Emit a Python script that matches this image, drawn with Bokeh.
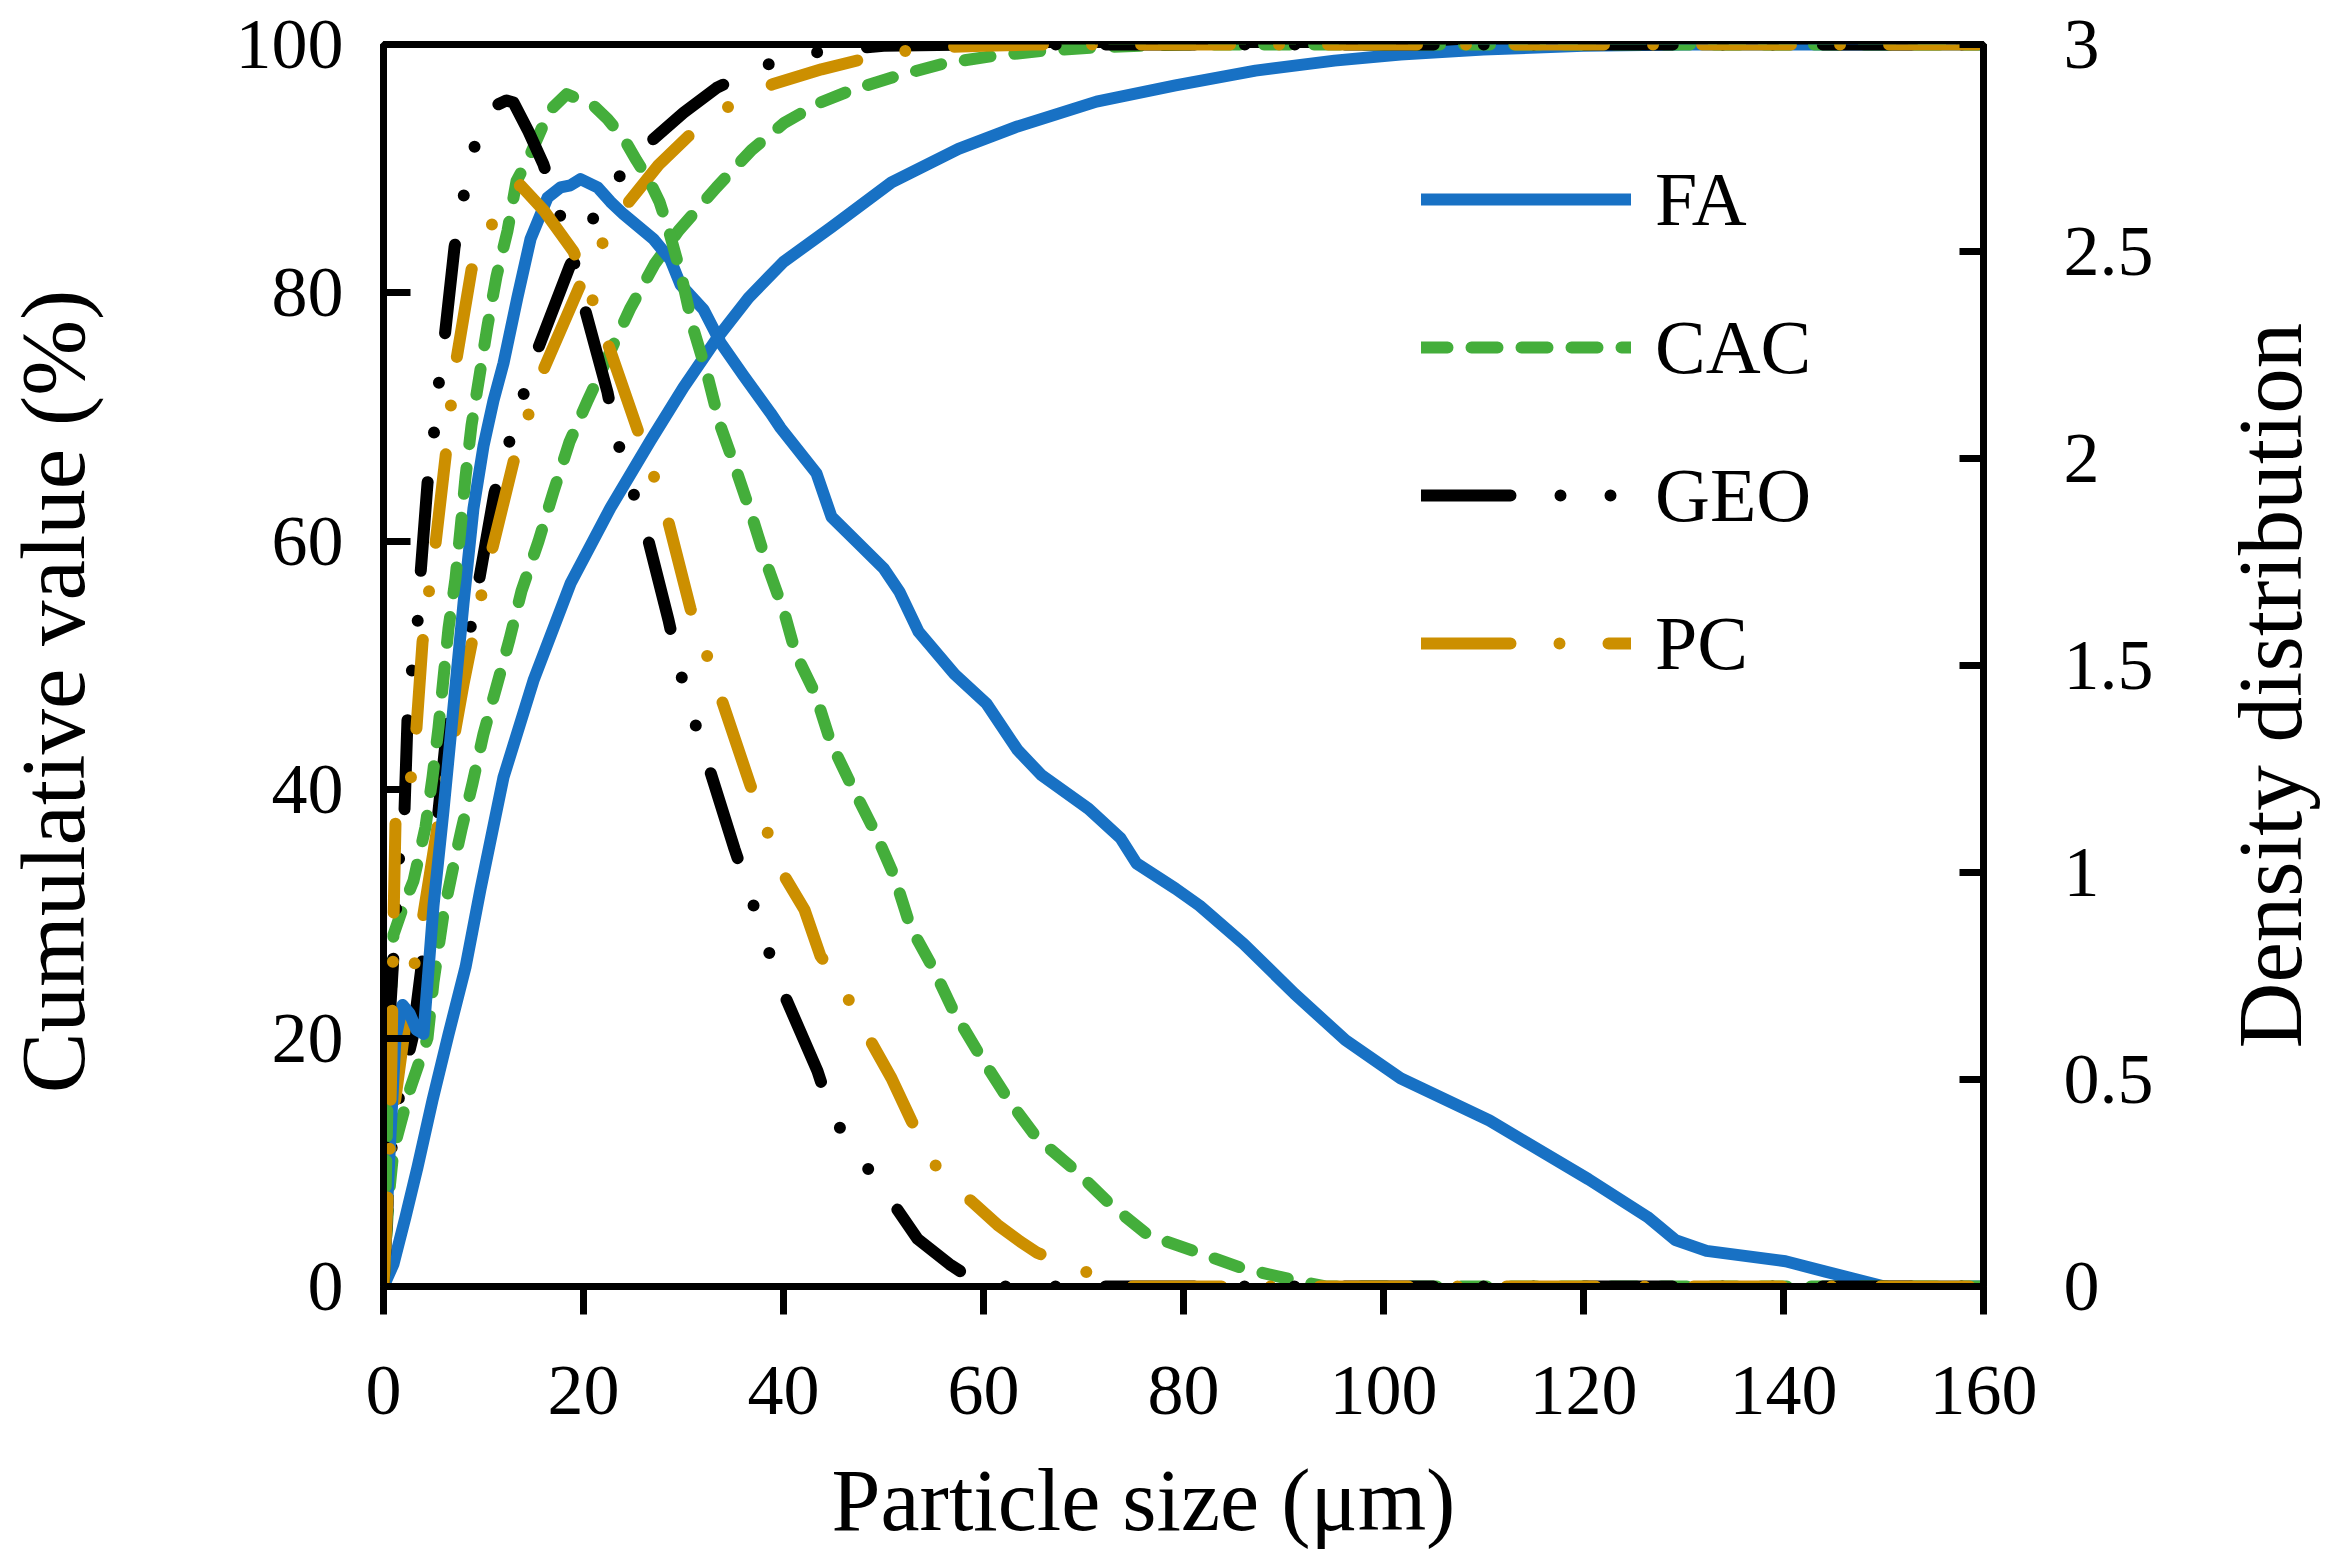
from bokeh.plotting import figure
from bokeh.models import Range1d, LinearAxis, FixedTicker, Legend, LegendItem, Label
from bokeh.layouts import row, column
from bokeh.embed import file_html
from bokeh.resources import INLINE

FONT = "Liberation Serif"

# ---------------- data ----------------
x_ticks = [0, 20, 40, 60, 80, 100, 120, 140, 160]
left_ticks = [0, 20, 40, 60, 80, 100]
right_ticks = [0, 0.5, 1, 1.5, 2, 2.5, 3]
right_tick_labels = ["0", "0.5", "1", "1.5", "2", "2.5", "3"]

x_title = "Particle size (\u03bcm)"
left_title = "Cumulative value (%)"
right_title = "Density distribution"

series_names = ["FA", "CAC", "GEO", "PC"]

# FA
fa_cum_size = [0, 1.0, 2.2, 3.4, 4.9, 6.5, 8.2, 9.7, 12.0, 15.0, 18.7, 22.7, 26.7, 30.0, 33.4,
               36.5, 40.0, 44.8, 50.8, 57.5, 63.4, 71.3, 79.2, 87.2, 95.1, 101.7, 110, 120, 130, 145, 160]
fa_cum = [0, 1.8, 5.6, 9.6, 15.0, 20.3, 25.7, 32.0, 41.0, 48.8, 56.6, 62.7, 68.1, 72.4, 76.4,
          79.6, 82.5, 85.3, 88.9, 91.6, 93.4, 95.4, 96.7, 97.9, 98.7, 99.2, 99.6, 99.9, 100, 100, 100]
fa_den_size = [0, 0.6, 1.2, 1.9, 2.6, 3.3, 4.0, 5.0, 6.0, 7.0, 8.0, 9.0, 10.0, 11.0, 12.0,
               13.4, 14.7, 16.4, 17.7, 18.7, 19.7, 21.4, 22.7, 24.0, 27.0, 28.7, 29.7, 32.0, 33.7, 36.0,
               38.7, 39.7, 43.3, 44.8, 47.6, 50.0, 51.6, 53.5, 57.1, 60.3, 63.4, 65.8, 70.5, 73.7, 75.3,
               79.2, 81.6, 86.0, 91.1, 96.2, 101.7, 110.6, 120.5, 126.4, 129.2, 132.3, 140.2, 144.2, 150.1, 160]
fa_den = [0, 0.32, 0.60, 0.68, 0.66, 0.62, 0.61, 0.92, 1.15, 1.40, 1.65, 1.88, 2.03, 2.14, 2.23,
          2.39, 2.53, 2.63, 2.655, 2.66, 2.675, 2.655, 2.62, 2.59, 2.53, 2.48, 2.42, 2.36, 2.28, 2.20,
          2.11, 2.074, 1.964, 1.859, 1.792, 1.735, 1.678, 1.582, 1.479, 1.408, 1.296, 1.235, 1.154, 1.083, 1.022,
          0.961, 0.92, 0.828, 0.707, 0.595, 0.503, 0.401, 0.259, 0.168, 0.112, 0.086, 0.061, 0.036, 0, 0]

# CAC
cac_cum_size = [0, 0.5, 1.0, 2.0, 2.7, 4.4, 5.0, 6.0, 6.9, 7.8, 8.9, 10.0, 11.3, 12.6, 13.8,
                15.5, 17.0, 18.6, 20.4, 24.7, 27.1, 29.5, 33.3, 36.8, 40.1, 43.6, 46.7, 51.5, 56.2, 61.2,
                66.1, 72, 80, 90, 100, 160]
cac_cum = [0, 7, 11, 14, 16, 20, 24.5, 30, 33.5, 36.8, 40.5, 44.5, 48.3, 52.1, 56,
           60, 64, 68, 71.3, 78.8, 82.3, 85.0, 88.5, 91.5, 93.7, 95.3, 96.3, 97.5, 98.5, 99.1,
           99.5, 99.8, 100, 100, 100, 100]
cac_den_size = [0, 0.5, 1.0, 2.0, 3.0, 4.2, 4.9, 5.5, 6.0, 6.5, 7.2, 7.7, 8.2, 8.8, 9.6,
                10.4, 11.3, 12.4, 13.3, 14.6, 16.6, 18.3, 20.9, 22.4, 24.1, 25.3, 26.6, 27.6, 28.6, 29.8,
                30.9, 32.4, 33.6, 35.3, 36.9, 38.4, 40.1, 41.2, 43.2, 44.7, 46.7, 49.1, 51.1, 52.7, 55.0,
                57.0, 59.8, 62.5, 65.3, 69.3, 72.8, 76.4, 81.1, 85.9, 90.6, 94.2, 160]
cac_den = [0, 0.55, 0.85, 0.92, 0.98, 1.11, 1.23, 1.35, 1.47, 1.59, 1.71, 1.83, 1.955, 2.08, 2.20,
           2.32, 2.44, 2.55, 2.67, 2.73, 2.84, 2.88, 2.855, 2.82, 2.77, 2.72, 2.67, 2.62, 2.545, 2.44,
           2.32, 2.20, 2.085, 1.97, 1.856, 1.74, 1.626, 1.53, 1.43, 1.316, 1.215, 1.10, 0.99, 0.868, 0.767,
           0.665, 0.552, 0.451, 0.36, 0.278, 0.196, 0.125, 0.085, 0.044, 0.018, 0, 0]

# GEO
geo_cum_size = [0, 0.5, 1.0, 2.0, 2.9, 4.0, 5.4, 6.4, 7.5, 8.7, 9.5, 11.1, 12.4, 13.8, 15.3,
                18.6, 20.6, 23.2, 26.3, 30.0, 33.3, 37.6, 42.4, 50.0, 60.0, 160]
geo_cum = [0, 8, 13, 17, 20, 27, 37.5, 45.3, 49.5, 53, 56.6, 63.9, 67.5, 71.3, 75.2,
           82.1, 85.5, 89.0, 91.9, 94.5, 96.5, 98.2, 99.3, 99.9, 100, 100]
geo_den_size = [0, 0.5, 1.0, 1.6, 2.1, 2.4, 2.8, 3.4, 3.7, 4.4, 5.0, 5.5, 6.1, 7.1, 7.9,
                8.9, 10.0, 11.0, 12.3, 13.0, 14.5, 16.0, 17.5, 19.0, 20.0, 22.4, 23.3, 24.8, 26.3, 28.5,
                29.6, 30.9, 32.4, 35.1, 36.6, 38.1, 39.7, 43.4, 44.9, 47.8, 50.7, 53.4, 56.6, 60, 160]
geo_den = [0, 0.6, 0.8, 1.05, 1.15, 1.37, 1.48, 1.6, 1.72, 1.94, 2.05, 2.175, 2.29, 2.51, 2.62,
           2.74, 2.81, 2.85, 2.865, 2.86, 2.79, 2.71, 2.60, 2.48, 2.374, 2.16, 2.05, 1.93, 1.82, 1.61,
           1.49, 1.38, 1.265, 1.057, 0.95, 0.84, 0.726, 0.52, 0.41, 0.306, 0.21, 0.115, 0.054, 0, 0]

# PC
pc_cum_size = [0, 0.5, 1.0, 2.0, 3.0, 4.0, 5.0, 6.0, 7.0, 8.0, 9.0, 10.0, 11.0, 13.0, 14.5,
               16.1, 19.6, 21.9, 24.6, 27.5, 30.6, 34.5, 38.9, 43.8, 47.8, 52.3, 56, 60, 65, 160]
pc_cum = [0, 9, 14, 20, 25.5, 30, 35, 40, 44, 48.5, 52.5, 56.5, 59.8, 66.4, 70.2,
          74.0, 80.5, 84.0, 87.4, 90.3, 92.7, 95.0, 96.8, 98.0, 98.8, 99.5, 99.8, 99.9, 100, 100]
pc_den_size = [0, 0.4, 0.6, 0.8, 1.0, 1.2, 2.0, 2.7, 3.3, 3.9, 4.5, 5.2, 6.2, 6.7, 7.3,
               8.8, 10.8, 12.5, 13.7, 16.0, 19.0, 20.8, 22.4, 25.4, 27.0, 28.5, 30.7, 32.3, 33.9, 36.7,
               38.4, 40.1, 42.1, 43.7, 45.6, 48.8, 50.8, 52.8, 55.1, 58.7, 61.4, 63.7, 65.4, 70.2, 74, 160]
pc_den = [0, 0.21, 0.33, 0.55, 0.88, 1.12, 1.17, 1.22, 1.35, 1.556, 1.67, 1.794, 2.003, 2.12, 2.24,
          2.456, 2.563, 2.64, 2.66, 2.60, 2.50, 2.39, 2.28, 2.07, 1.96, 1.846, 1.637, 1.528, 1.411, 1.21,
          1.097, 0.991, 0.91, 0.798, 0.734, 0.589, 0.503, 0.40, 0.295, 0.208, 0.149, 0.108, 0.081, 0.036, 0, 0]

# ---------------- styles ----------------
colors = {"FA": "#1871C4", "CAC": "#44AE3B", "GEO": "#000000", "PC": "#CC8F00"}
dashes = {"FA": "solid", "CAC": "26 24", "GEO": "89 50 0 50 0 50", "PC": "89 49 0 49"}
LW = 12

cum_data = {"FA": (fa_cum_size, fa_cum), "CAC": (cac_cum_size, cac_cum),
            "GEO": (geo_cum_size, geo_cum), "PC": (pc_cum_size, pc_cum)}
den_data = {"FA": (fa_den_size, fa_den), "CAC": (cac_den_size, cac_den),
            "GEO": (geo_den_size, geo_den), "PC": (pc_den_size, pc_den)}

TOP_H = 1450
LEFT_W = 120
MAIN_W = 2100
RIGHT_W = 115
BOTTOM_H = 108

p = figure(width=MAIN_W, height=TOP_H, output_backend="svg", toolbar_location=None,
           x_range=Range1d(0, 160), y_range=Range1d(0, 100),
           min_border_left=263, min_border_right=237, min_border_top=44, min_border_bottom=164)
p.extra_y_ranges = {"density": Range1d(0, 3)}
p.xgrid.visible = False
p.ygrid.visible = False
p.background_fill_color = "white"
p.border_fill_color = "white"
p.outline_line_color = "black"
p.outline_line_width = 7

right_axis = LinearAxis(y_range_name="density")
p.add_layout(right_axis, "right")

for ax in [p.xaxis[0], p.yaxis[0], right_axis]:
    ax.axis_line_width = 7
    ax.axis_line_color = "black"
    ax.major_tick_line_width = 7
    ax.major_tick_line_color = "black"
    ax.minor_tick_line_color = None
    ax.major_label_text_font = FONT
    ax.major_label_text_font_size = "72px"
    ax.major_label_text_color = "black"

p.xaxis[0].ticker = FixedTicker(ticks=x_ticks)
p.xaxis[0].major_tick_in = 0
p.xaxis[0].major_tick_out = 28
p.xaxis[0].major_label_standoff = 52

p.yaxis[0].ticker = FixedTicker(ticks=left_ticks)
p.yaxis[0].major_tick_in = 27
p.yaxis[0].major_tick_out = 0
p.yaxis[0].major_label_standoff = 40

right_axis.ticker = FixedTicker(ticks=right_ticks)
right_axis.major_tick_in = 24
right_axis.major_tick_out = 0
right_axis.major_label_standoff = 80
right_axis.major_label_overrides = {float(t): s for t, s in zip(right_ticks, right_tick_labels)}

cum_renderers = {}
for name in series_names:
    xs, ys = cum_data[name]
    cum_renderers[name] = p.line(xs, ys, line_color=colors[name], line_width=LW,
                                 line_dash=dashes[name], line_cap="round", line_join="round")
for name in series_names:
    xs, ys = den_data[name]
    p.line(xs, ys, line_color=colors[name], line_width=LW, line_dash=dashes[name],
           line_cap="round", line_join="round", y_range_name="density")

legend = Legend(items=[LegendItem(label=n, renderers=[cum_renderers[n]]) for n in series_names],
                location=(1038, 598), glyph_width=210, glyph_height=90, label_height=90,
                spacing=58, label_standoff=24, padding=0, margin=0,
                border_line_alpha=0, background_fill_alpha=0,
                label_text_font=FONT, label_text_font_size="76px", label_text_color="black")
p.add_layout(legend)


def text_panel(w, h):
    f = figure(width=w, height=h, output_backend="svg", toolbar_location=None,
               x_axis_location=None, y_axis_location=None, min_border=0,
               x_range=Range1d(0, 1), y_range=Range1d(0, 1))
    f.outline_line_color = None
    f.grid.visible = False
    f.background_fill_color = "white"
    f.border_fill_color = "white"
    return f


p_left = text_panel(LEFT_W, TOP_H)
p_left.add_layout(Label(x=53, y=595, x_units="screen", y_units="screen", text=left_title,
                        angle=90, angle_units="deg", text_align="center", text_baseline="middle",
                        text_font=FONT, text_font_size="91px", text_color="black"))

p_right = text_panel(RIGHT_W, TOP_H)
p_right.add_layout(Label(x=50, y=601, x_units="screen", y_units="screen", text=right_title,
                         angle=90, angle_units="deg", text_align="center", text_baseline="middle",
                         text_font=FONT, text_font_size="91px", text_color="black"))

p_bottom = text_panel(LEFT_W + MAIN_W + RIGHT_W, BOTTOM_H)
p_bottom.add_layout(Label(x=1143, y=58, x_units="screen", y_units="screen", text=x_title,
                          text_align="center", text_baseline="middle",
                          text_font=FONT, text_font_size="88px", text_color="black"))

layout = column(row(p_left, p, p_right, spacing=0), p_bottom, spacing=0)

open("out.html", "w").write(file_html(layout, INLINE))
